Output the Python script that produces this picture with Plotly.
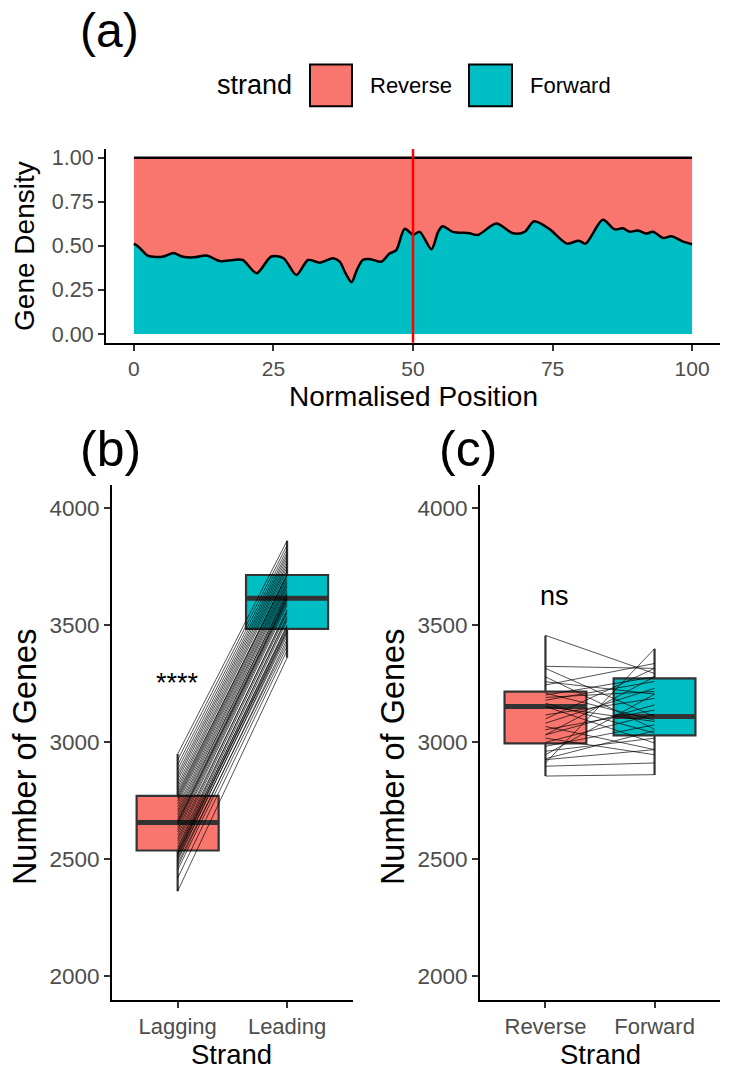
import plotly.graph_objects as go

# ---------------- data ----------------
REV_COLOR = "#F8766D"
FWD_COLOR = "#00BFC4"

# panel (a): normalised position vs fraction of genes on forward strand
position = [0, 1, 2.3, 3.5, 5.3, 7.1, 8.6, 10.7, 13, 15.4,
            17.8, 19.5, 22, 24.6, 26.8, 29.1, 31.2, 33.3, 35.7, 36.9,
            37.9, 39, 39.9, 41, 42.4, 44.3, 45.8, 47, 48.5, 50,
            51.2, 53.3, 54.5, 55.3, 57.1, 60.1, 61.6, 64.9, 67.9, 70,
            71.7, 74.4, 77.6, 79.7, 80.9, 84, 86.1, 87.6, 88.8, 90.3,
            91.8, 93, 94.8, 96.3, 98.4, 100]
forward_density = [0.513, 0.49, 0.448, 0.438, 0.44, 0.46, 0.44, 0.435, 0.445, 0.414,
                   0.42, 0.42, 0.345, 0.44, 0.43, 0.335, 0.42, 0.405, 0.43, 0.41,
                   0.345, 0.294, 0.36, 0.42, 0.425, 0.41, 0.457, 0.476, 0.597, 0.564,
                   0.58, 0.481, 0.58, 0.612, 0.58, 0.572, 0.562, 0.627, 0.572, 0.58,
                   0.64, 0.597, 0.513, 0.53, 0.513, 0.648, 0.594, 0.6, 0.58, 0.588,
                   0.57, 0.58, 0.545, 0.555, 0.524, 0.51]
reverse_density = [round(1 - f, 3) for f in forward_density]
origin_position = 50

# panel (b): lagging vs leading strand gene counts (paired genomes)
lagging = [2364, 2420, 2455, 2470, 2482, 2495, 2503, 2511, 2518, 2524,
           2530, 2536, 2544, 2552, 2566, 2579, 2590, 2604, 2617, 2628,
           2640, 2650, 2656, 2661, 2668, 2679, 2690, 2701, 2712, 2725,
           2738, 2749, 2758, 2766, 2775, 2784, 2796, 2808, 2822, 2838,
           2852, 2866, 2884, 2903, 2925, 2950]
leading = [3361, 3392, 3410, 3440, 3425, 3468, 3455, 3480, 3490, 3475,
           3502, 3495, 3520, 3538, 3530, 3552, 3568, 3560, 3585, 3596,
           3605, 3612, 3620, 3616, 3628, 3640, 3635, 3650, 3662, 3670,
           3680, 3690, 3700, 3712, 3720, 3715, 3735, 3748, 3760, 3772,
           3785, 3798, 3810, 3825, 3842, 3861]
b_categories = ["Lagging", "Leading"]
b_q1 = [2538, 3485]
b_median = [2658, 3616]
b_q3 = [2771, 3715]
b_low = [2364, 3361]
b_high = [2950, 3861]

# panel (c): reverse vs forward strand gene counts (paired genomes)
reverse_counts = [3457, 3325, 3316, 3280, 3259, 3245, 3202, 3192, 3167, 3153,
                  3153, 3117, 3082, 3068, 3054, 3032, 3032, 3018, 2983, 2962,
                  2947, 2926, 2912, 2898, 2856, 3100, 3000, 3210, 2930, 3180]
forward_counts = [3294, 3316, 3110, 3056, 3206, 3337, 3280, 3217, 3040, 3089,
                  2997, 3188, 3231, 2969, 3138, 3160, 3280, 2947, 3075, 3018,
                  3206, 2969, 3400, 2912, 2862, 3316, 3120, 3095, 3050, 3260]
c_categories = ["Reverse", "Forward"]
c_q1 = [2996, 3030]
c_median = [3153, 3110]
c_q3 = [3217, 3273]
c_low = [2856, 2860]
c_high = [3457, 3400]

b_label = "****"
b_label_pos = (1.0, 3255)
c_label = "ns"
c_label_pos = (1.08, 3625)

# ---------------- layout helpers ----------------
W, H = 735, 1086
FONT = "Liberation Sans, Arial, Helvetica, sans-serif"
BOX_W = 0.75


def px(x):
    return x / W


def py(y):
    return 1 - y / H


fig = go.Figure()

# ---- panel (a) ----
fig.add_trace(go.Scatter(
    x=position, y=forward_density, mode="lines", fill="tozeroy",
    fillcolor=FWD_COLOR, line=dict(color="black", width=2.5, shape="spline", smoothing=0.8),
    xaxis="x", yaxis="y", showlegend=False, hoverinfo="skip"))
fig.add_trace(go.Scatter(
    x=position, y=[f + r for f, r in zip(forward_density, reverse_density)],
    mode="lines", fill="tonexty", fillcolor=REV_COLOR,
    line=dict(color="black", width=2.5),
    xaxis="x", yaxis="y", showlegend=False, hoverinfo="skip"))

# ---- paired box panels ----
def add_paired(q1, med, q3, lo, hi, left_vals, right_vals, xa, ya):
    colors = [REV_COLOR, FWD_COLOR]
    for i in range(2):
        fig.add_trace(go.Box(
            x=[i + 1], q1=[q1[i]], median=[med[i]], q3=[q3[i]],
            lowerfence=[lo[i]], upperfence=[hi[i]], width=BOX_W,
            fillcolor=colors[i], line=dict(color="#333333", width=2.2),
            whiskerwidth=0, boxpoints=False, xaxis=xa, yaxis=ya,
            showlegend=False, hoverinfo="skip"))
    for i in range(2):
        fig.add_trace(go.Scatter(
            x=[i + 1 - BOX_W / 2, i + 1 + BOX_W / 2], y=[med[i], med[i]],
            mode="lines", line=dict(color="#333333", width=5),
            xaxis=xa, yaxis=ya, showlegend=False, hoverinfo="skip"))
    xs, ys = [], []
    for a, b in zip(left_vals, right_vals):
        xs += [1, 2, None]
        ys += [a, b, None]
    fig.add_trace(go.Scatter(
        x=xs, y=ys, mode="lines", line=dict(color="rgba(0,0,0,0.85)", width=0.8),
        xaxis=xa, yaxis=ya, showlegend=False, hoverinfo="skip", connectgaps=False))


add_paired(b_q1, b_median, b_q3, b_low, b_high, lagging, leading, "x2", "y2")
add_paired(c_q1, c_median, c_q3, c_low, c_high, reverse_counts, forward_counts, "x3", "y3")

# ---------------- axes ----------------
def axis_style(size):
    return dict(showline=True, linecolor="black", linewidth=2, ticks="outside",
                ticklen=6, tickwidth=2, tickcolor="#333333", showgrid=False,
                zeroline=False, tickfont=dict(family=FONT, size=size, color="#4D4D4D"))


fig.update_layout(
    xaxis=dict(domain=[px(106), px(720)], range=[-5, 105], anchor="y",
               tickvals=[0, 25, 50, 75, 100], **axis_style(21)),
    yaxis=dict(domain=[py(342), py(147)], range=[-0.05, 1.05], anchor="x",
               tickvals=[0, 0.25, 0.5, 0.75, 1.0], tickformat=".2f", **axis_style(21.5)),
    xaxis2=dict(domain=[px(112), px(352.7)], range=[0.4, 2.6], anchor="y2",
                tickvals=[1, 2], ticktext=b_categories, **axis_style(22)),
    yaxis2=dict(domain=[py(1003.3), py(485)], range=[1900, 4100], anchor="x2",
                tickvals=[2000, 2500, 3000, 3500, 4000], **axis_style(22.5)),
    xaxis3=dict(domain=[px(480), px(720)], range=[0.4, 2.6], anchor="y3",
                tickvals=[1, 2], ticktext=c_categories, **axis_style(22)),
    yaxis3=dict(domain=[py(1003.3), py(485)], range=[1900, 4100], anchor="x3",
                tickvals=[2000, 2500, 3000, 3500, 4000], **axis_style(22.5)),
)

# ---------------- shapes ----------------
shapes = [
    dict(type="line", xref="x", yref="y domain", x0=origin_position, x1=origin_position,
         y0=0, y1=1, line=dict(color="red", width=2.5)),
    dict(type="rect", xref="paper", yref="paper", x0=px(310), x1=px(352), y0=py(104), y1=py(62),
         fillcolor=REV_COLOR, line=dict(color="black", width=2)),
    dict(type="rect", xref="paper", yref="paper", x0=px(469), x1=px(512), y0=py(104), y1=py(62),
         fillcolor=FWD_COLOR, line=dict(color="black", width=2)),
]

# ---------------- annotations ----------------
def ann(text, x, y, size, angle=0, xanchor="center", color="black"):
    return dict(text=text, x=px(x), y=py(y), xref="paper", yref="paper",
                showarrow=False, textangle=angle, xanchor=xanchor, yanchor="middle",
                font=dict(family=FONT, size=size, color=color))


annotations = [
    ann("(a)", 109, 28, 48),
    ann("(b)", 110, 449, 50),
    ann("(c)", 468, 449, 50),
    ann("strand", 254, 83, 27),
    ann("Reverse", 368, 83, 22, xanchor="left"),
    ann("Forward", 528, 83, 22, xanchor="left"),
    ann("Gene Density", 25, 244.5, 28, angle=-90),
    ann("Normalised Position", 413, 396, 28),
    ann("Number of Genes", 25, 759, 32.5, angle=-90),
    ann("Number of Genes", 393, 759, 32.5, angle=-90),
    ann("Strand", 232, 1058, 27.5),
    ann("Strand", 600, 1058, 27.5),
    dict(text=b_label, x=b_label_pos[0], y=b_label_pos[1], xref="x2", yref="y2",
         showarrow=False, font=dict(family=FONT, size=27, color="black")),
    dict(text=c_label, x=c_label_pos[0], y=c_label_pos[1], xref="x3", yref="y3",
         showarrow=False, font=dict(family=FONT, size=27, color="black")),
]

fig.update_layout(
    width=W, height=H, margin=dict(l=0, r=0, t=0, b=0),
    paper_bgcolor="white", plot_bgcolor="white",
    shapes=shapes, annotations=annotations, showlegend=False,
    boxmode="overlay", font=dict(family=FONT),
)

# remove the page's default body margin so the figure fills the window exactly
fig.write_html("out.html", config={"displayModeBar": False},
               post_script="document.body.style.margin='0px';")
